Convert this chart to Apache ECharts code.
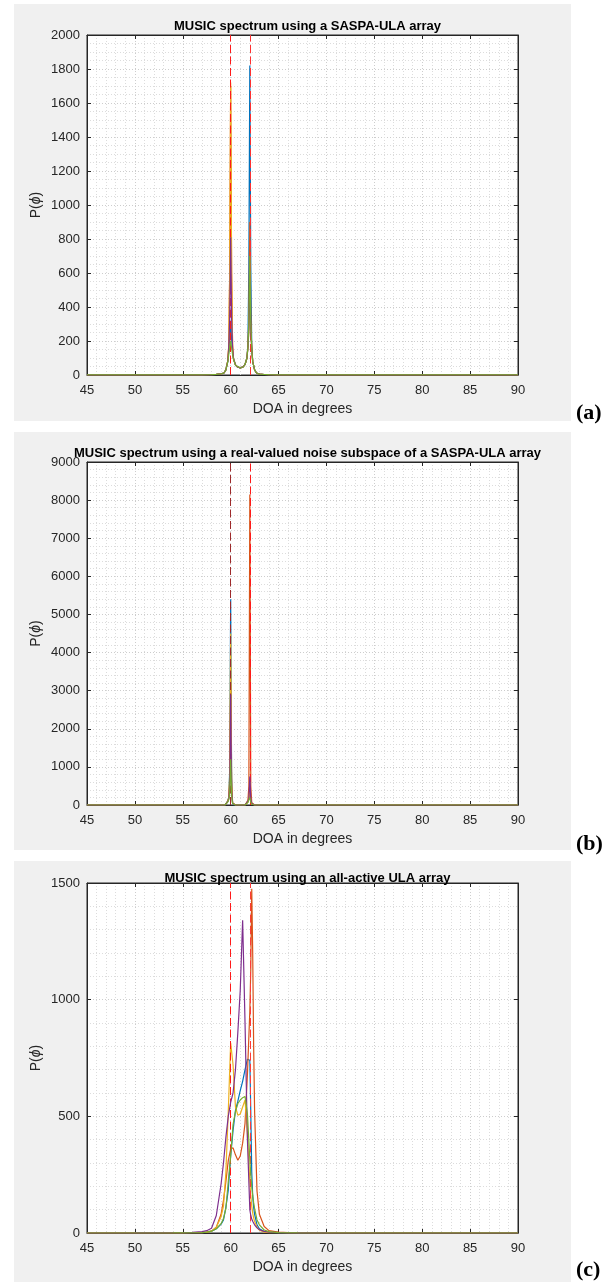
<!DOCTYPE html>
<html><head><meta charset="utf-8">
<script src="https://cdn.jsdelivr.net/npm/echarts/dist/echarts.min.js"></script>
<style>html,body{margin:0;padding:0;background:#fff}#c{width:613px;height:1284px}</style>
</head><body><div id="c"></div><script>
// ---------- DATA ----------
const xTicks = [45, 50, 55, 60, 65, 70, 75, 80, 85, 90];
const trueDOA = [60, 62];
const seriesColors = ['#0072BD', '#D95319', '#EDB120', '#7E2F8E', '#77AC30'];

// Panel (a): MUSIC spectrum using a SASPA-ULA array
const xA = [45,50,55,57,58,58.5,59,59.3,59.5,59.7, 59.8,59.9,60,60.1,60.2,60.3,60.5,60.7,61,61.3, 61.5,61.7,61.8,61.9,62,62.1,62.2,62.3,62.5,62.7, 63,63.5,64,65,70,75,80,85,90];
const aBlue   = [0.2,0.3,0.6,1.2,2.5,4,7,12,30,80, 140,220,300,210,140,95,60,48,42,48, 62,100,175,640,1820,640,170,80,30,12, 5,3,2,1,0.4,0.3,0.2,0.2,0.2];
const aOrange = [0.2,0.3,0.6,1.2,2.5,4,7,12,30,85, 170,600,1700,600,170,95,60,48,42,48, 62,100,170,330,900,330,165,80,30,12, 5,3,2,1,0.4,0.3,0.2,0.2,0.2];
const aYellow = [0.2,0.3,0.6,1.2,2.5,4,7,12,30,85, 175,610,1720,610,175,95,60,48,42,48, 62,100,160,250,450,250,150,80,30,12, 5,3,2,1,0.4,0.3,0.2,0.2,0.2];
const aPurple = [0.2,0.3,0.6,1.2,2.5,4,7,12,30,82, 160,330,810,330,160,95,60,48,42,48, 62,100,160,270,550,270,155,80,30,12, 5,3,2,1,0.4,0.3,0.2,0.2,0.2];
const aGreen  = [0.2,0.3,0.6,1.2,2.5,4,7,12,30,78, 120,165,200,160,120,90,58,47,41,47, 62,100,165,300,700,300,160,80,30,12, 5,3,2,1,0.4,0.3,0.2,0.2,0.2];

// Panel (b): real-valued noise subspace
const xB = [45,50,55,58,59,59.4,59.5,59.6,59.7,59.8, 59.9,60,60.1,60.2,60.3,60.5,61,61.5,61.6,61.7, 61.8,61.9,62,62.1,62.2,62.3,62.5,63,65,70, 80,90];
const bBlue   = [0,0,0,0,0,0,20,60,120,200, 900,5400,700,60,5,0,0,0,10,40, 90,150,600,150,30,5,0,0,0,0, 0,0];
const bOrange = [0,0,0,0,0,0,15,50,100,180, 600,3200,500,50,5,0,0,0,15,50, 120,500,8150,500,60,10,0,0,0,0, 0,0];
const bYellow = [0,0,0,0,0,0,18,55,110,190, 800,4500,600,55,5,0,0,0,8,30, 70,120,350,110,25,5,0,0,0,0, 0,0];
const bPurple = [0,0,0,0,0,0,15,45,90,160, 500,2900,400,45,4,0,0,0,12,45, 100,180,750,160,35,6,0,0,0,0, 0,0];
const bGreen  = [0,0,0,0,0,0,12,40,80,140, 300,1200,250,40,3,0,0,0,10,35, 70,100,200,80,20,4,0,0,0,0, 0,0];

// Panel (c): all-active ULA array
const xC = [45,50,54,55,56,57,57.5,58,58.5,59, 59.25,59.5,59.75,60,60.25,60.5,60.75,61,61.25,61.5, 61.75,62,62.1,62.2,62.3,62.4,62.5,62.75,63,63.5, 64,65,66,67,70,80,90];
const cBlue   = [0,0,0.2,0.4,1,2,4,8,18,38, 56,110,184,330,440,525,565,610,650,700, 745,740,520,260,160,110,80,35,18,6, 3,1,0.5,0.2,0,0,0];
const cOrange = [0,0,0.3,0.5,1,2,4,8,25,80, 140,220,310,360,365,335,312,330,385,470, 680,950,1130,1475,1200,800,520,180,80,28, 10,4,2,1,0.3,0,0];
const cYellow = [0,0,0.3,0.5,1,2,4,8,25,70, 115,260,520,815,720,540,505,510,540,570, 420,220,160,115,85,65,50,25,12,4, 2,1,0.5,0.2,0,0,0];
const cPurple = [0,0.2,1,1.5,3,6,10,20,75,210, 300,410,500,560,600,700,860,1040,1340,900, 400,100,75,60,50,42,35,22,14,7, 4,2,1,0.5,0.2,0,0];
const cGreen  = [0,0,0.2,0.4,1,2,4,8,18,40, 62,105,220,330,465,520,555,570,580,585, 510,315,250,200,160,130,105,56,35,13, 6,2,1,0.5,0.1,0,0];

const titles = [
  'MUSIC spectrum using a SASPA-ULA array',
  'MUSIC spectrum using a real-valued noise subspace of a SASPA-ULA array',
  'MUSIC spectrum using an all-active ULA array'
];
const yMax = [2000, 9000, 1500];
const yStep = [200, 1000, 500];
const yMinorSplit = [4, 5, 5];
const panelLetters = ['(a)', '(b)', '(c)'];
const xLabel = 'DOA in degrees';

// ---------- LAYOUT ----------
const grids = [
  {left: 87, top: 35, width: 431, height: 340},
  {left: 87, top: 462, width: 431, height: 343},
  {left: 87, top: 883, width: 431, height: 350}
];
const panels = [
  {y: 4, h: 417, titleTop: 15, letterY: 414},
  {y: 432, h: 418, titleTop: 442, letterY: 845},
  {y: 861, h: 421, titleTop: 867, letterY: 1271}
];
const dashColors = [['#FF1A1A', '#FF3030'], ['#9E2A2B', '#FF1A1A'], ['#FF1A1A', '#FF3A3A']];
const panelData = [
  [xA, [aBlue, aOrange, aYellow, aPurple, aGreen]],
  [xB, [bBlue, bOrange, bYellow, bPurple, bGreen]],
  [xC, [cBlue, cOrange, cYellow, cPurple, cGreen]]
];

const FONT = '"Liberation Sans", Arial, Helvetica, sans-serif';
const txt = '#262626';

const option = {
  animation: false,
  backgroundColor: '#ffffff',
  grid: [], xAxis: [], yAxis: [], series: [], title: [],
  graphic: {elements: []}
};

grids.forEach((g, p) => {
  option.grid.push(Object.assign({show: true, backgroundColor: '#ffffff', borderColor: txt, borderWidth: 1, containLabel: false}, g));
  option.graphic.elements.push({type: 'rect', z: -100, shape: {x: 14, y: panels[p].y, width: 557, height: panels[p].h}, style: {fill: '#F0F0F0'}});
  option.graphic.elements.push({type: 'text', z: 100, left: 576, top: panels[p].letterY - 12,
    style: {text: panelLetters[p], font: 'bold 22px "Liberation Serif", "Times New Roman", serif', fill: '#000'}});
  option.title.push({text: titles[p], left: g.left + g.width / 2, top: panels[p].titleTop, textAlign: 'center',
    textStyle: {fontFamily: FONT, fontWeight: 'bold', fontSize: 13, color: '#000'}});

  const xi = option.xAxis.length;
  option.xAxis.push({
    type: 'value', gridIndex: p, min: 45, max: 90, interval: 5, position: 'bottom',
    name: xLabel, nameLocation: 'middle', nameGap: 27, nameMoveOverlap: false,
    nameTextStyle: {fontFamily: FONT, fontSize: 14, color: txt},
    axisLine: {show: true, onZero: false, lineStyle: {color: txt, width: 1}},
    axisTick: {show: true, inside: true, length: 4, lineStyle: {color: txt}},
    axisLabel: {fontFamily: FONT, fontSize: 13, color: txt, margin: 9,
      formatter: v => xTicks.includes(v) ? String(v) : ''},
    splitLine: {show: true, lineStyle: {color: '#CDCDCD', type: [1, 2], width: 1}},
    minorTick: {show: false, splitNumber: 5},
    minorSplitLine: {show: true, lineStyle: {color: '#DCDCDC', type: [1, 2], width: 1}}
  });
  option.xAxis.push({
    type: 'value', gridIndex: p, min: 45, max: 90, interval: 5, position: 'top',
    axisLine: {show: true, onZero: false, lineStyle: {color: txt, width: 1}},
    axisLabel: {show: false}, splitLine: {show: false},
    axisTick: {show: true, inside: true, length: 4, lineStyle: {color: txt}}
  });
  const yi = option.yAxis.length;
  option.yAxis.push({
    type: 'value', gridIndex: p, min: 0, max: yMax[p], interval: yStep[p], position: 'left',
    name: '{n|P(}{i|ϕ}{n|)}', nameLocation: 'middle', nameGap: 44, nameRotate: 90, nameMoveOverlap: false,
    nameTextStyle: {rich: {n: {fontFamily: FONT, fontSize: 14, color: txt}, i: {fontFamily: FONT, fontStyle: 'italic', fontSize: 14, color: txt}}},
    axisLine: {show: true, onZero: false, lineStyle: {color: txt, width: 1}},
    axisTick: {show: true, inside: true, length: 4, lineStyle: {color: txt}},
    axisLabel: {fontFamily: FONT, fontSize: 13, color: txt, margin: 7, formatter: v => String(v)},
    splitLine: {show: true, lineStyle: {color: '#CDCDCD', type: [1, 2], width: 1}},
    minorTick: {show: false, splitNumber: yMinorSplit[p]},
    minorSplitLine: {show: true, lineStyle: {color: '#DCDCDC', type: [1, 2], width: 1}}
  });
  option.yAxis.push({
    type: 'value', gridIndex: p, min: 0, max: yMax[p], interval: yStep[p], position: 'right',
    axisLine: {show: true, onZero: false, lineStyle: {color: txt, width: 1}},
    axisLabel: {show: false}, splitLine: {show: false},
    axisTick: {show: true, inside: true, length: 4, lineStyle: {color: txt}}
  });

  const [xs, ys] = panelData[p];
  ys.forEach((arr, k) => {
    const s = {
      type: 'line', xAxisIndex: xi, yAxisIndex: yi, symbol: 'none', showSymbol: false,
      data: xs.map((x, i) => [x, arr[i]]), z: 2 + k, clip: true,
      lineStyle: {color: seriesColors[k], width: 1.2}, itemStyle: {color: seriesColors[k]}
    };
    if (k === ys.length - 1) {
      s.markLine = {
        silent: true, symbol: 'none', label: {show: false}, animation: false,
        data: trueDOA.map((d, j) => ({xAxis: d, lineStyle: {color: dashColors[p][j], type: [8, 3.5], width: 1}}))
      };
    }
    option.series.push(s);
  });
});

const chart = echarts.init(document.getElementById('c'), null, {renderer: 'canvas'});
chart.setOption(option);
</script></body></html>
